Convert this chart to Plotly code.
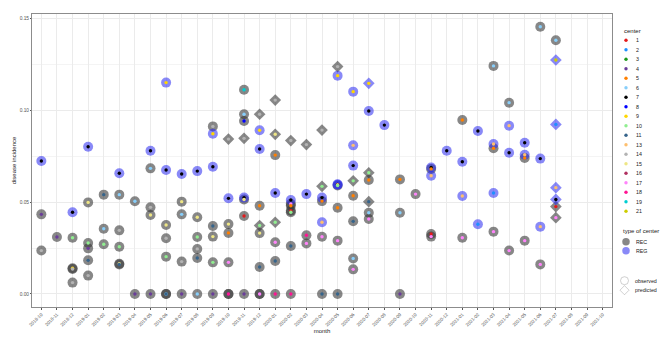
import plotly.graph_objects as go

# ---------------- data ----------------
months = (["2018-10", "2018-11", "2018-12"]
          + ["2019-%02d" % m for m in range(1, 13)]
          + ["2020-%02d" % m for m in range(1, 13)]
          + ["2021-%02d" % m for m in range(1, 11)])

center_labels = ["1", "2", "3", "4", "5", "6", "7", "8", "9", "10", "11",
                 "13", "14", "15", "16", "17", "18", "19", "21"]
center_colors = ["#E31A1C", "#1E90FF", "#1A991A", "#6A3D9A", "#FF7F00",
                 "#87CEFA", "#000000", "#0000FF", "#FFD700", "#90EE90",
                 "#36648B", "#FDBF6F", "#B3B3B3", "#EEE685", "#B03060",
                 "#FF83FA", "#FF1493", "#00CED1", "#CDCD00"]

# month index of each point (one line per month)
pt_month = [0, 0, 0,
            1,
            2, 2, 2, 2, 2,
            3, 3, 3, 3, 3, 3,
            4, 4, 4,
            5, 5, 5, 5, 5, 5,
            6, 6,
            7, 7, 7, 7, 7,
            8, 8, 8, 8, 8, 8, 8,
            9, 9, 9, 9, 9,
            10, 10, 10, 10, 10, 10,
            11, 11, 11, 11, 11, 11, 11,
            12, 12, 12, 12, 12, 12, 12,
            13, 13, 13, 13, 13, 13, 13, 13,
            14, 14, 14, 14, 14, 14, 14, 14, 14,
            15, 15, 15, 15, 15, 15, 15, 15,
            16, 16, 16, 16, 16, 16, 16, 16,
            17, 17, 17, 17,
            18, 18, 18, 18, 18, 18, 18,
            19, 19, 19, 19, 19, 19, 19, 19,
            20, 20, 20, 20, 20, 20, 20, 20,
            21, 21, 21, 21, 21, 21, 21,
            22,
            23, 23, 23,
            24,
            25, 25, 25, 25, 25,
            26,
            27, 27, 27, 27,
            28, 28,
            29, 29, 29, 29, 29,
            30, 30, 30, 30,
            31, 31, 31, 31,
            32, 32, 32, 32,
            33, 33, 33, 33, 33, 33, 33]

pt_value = [0.0723, 0.0433, 0.0236,
            0.0310,
            0.0444, 0.0306, 0.0140, 0.0136, 0.0062,
            0.0800, 0.0498, 0.0277, 0.0248, 0.0183, 0.0100,
            0.0540, 0.0355, 0.0270,
            0.0656, 0.0540, 0.0346, 0.0257, 0.0164, 0.0160,
            0.0504, 0.0,
            0.0779, 0.0683, 0.0471, 0.0429, 0.0,
            0.1149, 0.0674, 0.0375, 0.0303, 0.0203, 0.0, 0.0,
            0.0652, 0.0502, 0.0433, 0.0176, 0.0,
            0.0668, 0.0417, 0.0310, 0.0245, 0.0196, 0.0,
            0.0911, 0.0871, 0.0692, 0.0370, 0.0312, 0.0172, 0.0,
            0.0842, 0.0520, 0.0380, 0.0332, 0.0172, 0.0, 0.0,
            0.1110, 0.0977, 0.0940, 0.0846, 0.0524, 0.0514, 0.0424, 0.0,
            0.0977, 0.0890, 0.0788, 0.0480, 0.0372, 0.0331, 0.0147, 0.0, 0.0,
            0.1054, 0.0868, 0.0755, 0.0549, 0.0390, 0.0281, 0.0179, 0.0,
            0.0834, 0.0511, 0.0490, 0.0480, 0.0453, 0.0444, 0.0261, 0.0,
            0.0812, 0.0543, 0.0319, 0.0275,
            0.0891, 0.0585, 0.0524, 0.0505, 0.0390, 0.0311, 0.0,
            0.1236, 0.1187, 0.0596, 0.0594, 0.0590, 0.0469, 0.0290, 0.0,
            0.1100, 0.0808, 0.0698, 0.0615, 0.0534, 0.0395, 0.0193, 0.0134,
            0.1145, 0.0995, 0.0659, 0.0620, 0.0502, 0.0442, 0.0408,
            0.0918,
            0.0623, 0.0442, 0.0,
            0.0543,
            0.0688, 0.0680, 0.0643, 0.0326, 0.0312,
            0.0779,
            0.0946, 0.0719, 0.0533, 0.0306,
            0.0886, 0.0379,
            0.1240, 0.0815, 0.0792, 0.0549, 0.0339,
            0.1040, 0.0915, 0.0768, 0.0236,
            0.0822, 0.0757, 0.0739, 0.0290,
            0.1453, 0.0736, 0.0366, 0.0161,
            0.1379, 0.1272, 0.0922, 0.0578, 0.0514, 0.0475, 0.0415]

pt_center = ["7", "4", "14",
             "4",
             "7", "10", "9", "14", "14",
             "7", "15", "10", "4", "11", "14",
             "11", "6", "10",
             "7", "6", "14", "10", "15", "11",
             "6", "4",
             "7", "6", "14", "15", "4",
             "9", "7", "15", "14", "10", "6", "11",
             "7", "15", "6", "14", "4",
             "7", "15", "10", "14", "11", "6",
             "14", "9", "7", "11", "15", "10", "4",
             "14", "7", "15", "5", "17", "4", "18",
             "19", "6", "8", "14", "7", "15", "1", "4",
             "14", "9", "7", "5", "10", "15", "11", "4", "17",
             "14", "15", "5", "7", "10", "17", "11", "18",
             "14", "7", "17", "5", "1", "10", "11", "18",
             "14", "7", "18", "17",
             "14", "10", "7", "5", "13", "17", "11",
             "14", "9", "7", "13", "10", "5", "17", "11",
             "9", "13", "7", "10", "5", "11", "6", "17",
             "9", "7", "10", "5", "11", "6", "17",
             "7",
             "5", "6", "4",
             "17",
             "7", "5", "13", "1", "17",
             "7",
             "5", "7", "13", "17",
             "7", "2",
             "6", "13", "5", "2", "17",
             "6", "13", "7", "17",
             "7", "13", "5", "17",
             "6", "7", "13", "17",
             "6", "21", "2", "13", "7", "1", "17"]

# type of center: C = REC, G = REG
pt_type = ["G", "C", "C",
           "C",
           "G", "C", "C", "C", "C",
           "G", "C", "C", "C", "C", "C",
           "C", "C", "C",
           "G", "C", "C", "C", "C", "C",
           "C", "C",
           "G", "C", "C", "C", "C",
           "G", "G", "C", "C", "C", "C", "C",
           "G", "C", "C", "C", "C",
           "G", "C", "C", "C", "C", "C",
           "C", "G", "G", "C", "C", "C", "C",
           "C", "G", "C", "C", "C", "C", "C",
           "C", "C", "C", "C", "G", "C", "C", "C",
           "C", "G", "G", "C", "C", "C", "C", "C", "C",
           "C", "C", "C", "G", "C", "C", "C", "C",
           "C", "G", "C", "C", "C", "C", "C", "C",
           "C", "G", "C", "C",
           "C", "C", "G", "C", "G", "C", "C",
           "C", "G", "G", "G", "C", "C", "C", "C",
           "G", "G", "G", "C", "C", "C", "C", "C",
           "G", "G", "C", "C", "C", "C", "C",
           "G",
           "C", "C", "C",
           "C",
           "G", "C", "G", "C", "C",
           "G",
           "C", "G", "G", "C",
           "G", "G",
           "C", "G", "C", "G", "C",
           "C", "G", "G", "C",
           "G", "G", "C", "C",
           "C", "G", "G", "C",
           "C", "G", "G", "G", "G", "C", "C"]

# o = observed, p = predicted
pt_status = ["o", "o", "o",
             "o",
             "o", "o", "o", "o", "o",
             "o", "o", "o", "o", "o", "o",
             "o", "o", "o",
             "o", "o", "o", "o", "o", "o",
             "o", "o",
             "o", "o", "o", "o", "o",
             "o", "o", "o", "o", "o", "o", "o",
             "o", "o", "o", "o", "o",
             "o", "o", "o", "o", "o", "o",
             "o", "o", "o", "o", "o", "o", "o",
             "p", "o", "o", "o", "o", "o", "o",
             "o", "o", "o", "p", "o", "o", "o", "o",
             "p", "o", "o", "o", "p", "o", "o", "o", "o",
             "p", "p", "o", "o", "p", "o", "o", "o",
             "p", "o", "o", "o", "o", "o", "o", "o",
             "p", "o", "o", "o",
             "p", "p", "o", "o", "o", "o", "o",
             "p", "o", "o", "o", "o", "o", "o", "o",
             "o", "o", "o", "p", "o", "o", "o", "o",
             "p", "o", "p", "o", "p", "o", "o",
             "o",
             "o", "o", "o",
             "o",
             "o", "o", "o", "o", "o",
             "o",
             "o", "o", "o", "o",
             "o", "o",
             "o", "o", "o", "o", "o",
             "o", "o", "o", "o",
             "o", "o", "o", "o",
             "o", "o", "o", "o",
             "o", "p", "p", "p", "p", "p", "p"]

n = len(pt_value)
assert len(pt_month) == n == len(pt_center) == len(pt_type) == len(pt_status)

type_colors = {"C": "rgba(55,55,55,0.6)", "G": "rgba(40,40,240,0.55)"}
status_symbol = {"o": "circle", "p": "diamond"}
status_size = {"o": 10, "p": 9}
cmap = dict(zip(center_labels, center_colors))

FONT = "Liberation Sans, Arial, sans-serif"
fig = go.Figure()

# big markers: type of center x status
for t in ["C", "G"]:
    for s in ["o", "p"]:
        idx = [i for i in range(n) if pt_type[i] == t and pt_status[i] == s]
        fig.add_trace(go.Scatter(
            x=[months[pt_month[i]] for i in idx],
            y=[pt_value[i] for i in idx],
            mode="markers", showlegend=False, hoverinfo="skip",
            marker=dict(symbol=status_symbol[s], size=status_size[s],
                        color=type_colors[t], line=dict(width=0)),
            xaxis="x", yaxis="y"))

# small centre dots
fig.add_trace(go.Scatter(
    x=[months[m] for m in pt_month], y=pt_value,
    mode="markers", showlegend=False,
    text=pt_center, hovertemplate="center %{text}<br>%{x}: %{y}<extra></extra>",
    marker=dict(symbol="circle", size=3.4,
                color=[cmap[c] for c in pt_center], line=dict(width=0)),
    xaxis="x", yaxis="y"))

# ---------------- custom legend (pixel coordinate axes) ----------------
leg_dot_x = 626
leg_txt_x = 633.5
leg_y0 = 40.3
leg_dy = 9.5
leg_y = [leg_y0 + k * leg_dy for k in range(len(center_labels))]
fig.add_trace(go.Scatter(
    x=[leg_dot_x] * len(center_labels), y=leg_y, mode="markers",
    showlegend=False, hoverinfo="skip",
    marker=dict(size=3.4, color=center_colors, line=dict(width=0)),
    xaxis="x2", yaxis="y2"))
fig.add_trace(go.Scatter(
    x=[leg_dot_x, leg_dot_x], y=[241.7, 250.7], mode="markers",
    showlegend=False, hoverinfo="skip",
    marker=dict(size=7.5, color=[type_colors["C"], type_colors["G"]], line=dict(width=0)),
    xaxis="x2", yaxis="y2"))
fig.add_trace(go.Scatter(
    x=[624.5, 624.5], y=[280.7, 290.2], mode="markers",
    showlegend=False, hoverinfo="skip",
    marker=dict(size=[8, 7], symbol=["circle-open", "diamond-open"],
                color="#A0A0A0", line=dict(width=0.7, color="#A0A0A0")),
    xaxis="x2", yaxis="y2"))

annotations = []
def leg_text(x, y, txt, size=5.3):
    annotations.append(dict(x=x, y=y, xref="x2", yref="y2", text=txt,
                            showarrow=False, xanchor="left", yanchor="middle",
                            font=dict(size=size, color="#222222", family=FONT)))

leg_text(621.5, 30.5, "center", 6)
for lab, yy in zip(center_labels, leg_y):
    leg_text(leg_txt_x, yy, lab)
leg_text(620.5, 231, "type of center", 6)
leg_text(leg_txt_x, 241.7, "REC")
leg_text(leg_txt_x, 250.7, "REG")
leg_text(633, 280.7, "observed")
leg_text(633, 290.2, "predicted")

fig.update_layout(
    width=669, height=342,
    margin=dict(l=32, r=0, t=14, b=35),
    paper_bgcolor="white", plot_bgcolor="white",
    font=dict(family=FONT, size=6, color="#333333"),
    showlegend=False,
    annotations=annotations,
    xaxis=dict(
        domain=[0, 580 / 637], type="category",
        categoryorder="array", categoryarray=months,
        range=[-0.6, len(months) - 0.4],
        showgrid=True, gridcolor="#EBEBEB", gridwidth=0.6,
        showline=True, mirror=True, linecolor="#8C8C8C", linewidth=1,
        ticks="outside", ticklen=2, tickwidth=0.6, tickcolor="#555555",
        tickangle=-45, tickfont=dict(size=4.6, color="#555555", family=FONT),
        zeroline=False,
        title=dict(text="month", font=dict(size=6, color="#222222", family=FONT), standoff=2),
        anchor="y"),
    yaxis=dict(
        range=[-0.00707, 0.1522],
        tickmode="array", tickvals=[0, 0.05, 0.10, 0.15],
        ticktext=["0.00", "0.05", "0.10", "0.15"],
        showgrid=True, gridcolor="#EBEBEB", gridwidth=0.6,
        minor=dict(tickmode="array", tickvals=[0.025, 0.075, 0.125],
                   showgrid=True, gridcolor="#F4F4F4", gridwidth=0.5, ticks=""),
        showline=True, mirror=True, linecolor="#8C8C8C", linewidth=1,
        ticks="outside", ticklen=1, tickwidth=0.6, tickcolor="#555555",
        tickfont=dict(size=4.8, color="#555555", family=FONT),
        zeroline=False,
        title=dict(text="disease incidence", font=dict(size=6, color="#222222", family=FONT), standoff=2),
        anchor="x"),
    xaxis2=dict(domain=[580 / 637, 1], range=[612, 669], visible=False,
                fixedrange=True, anchor="y2"),
    yaxis2=dict(domain=[0, 1], range=[307, 14], visible=False,
                fixedrange=True, anchor="x2"),
)

fig.write_html("out.html",
               config={"displayModeBar": False},
               post_script="document.body.style.margin='0px';"
                           "document.body.style.overflow='hidden';")
